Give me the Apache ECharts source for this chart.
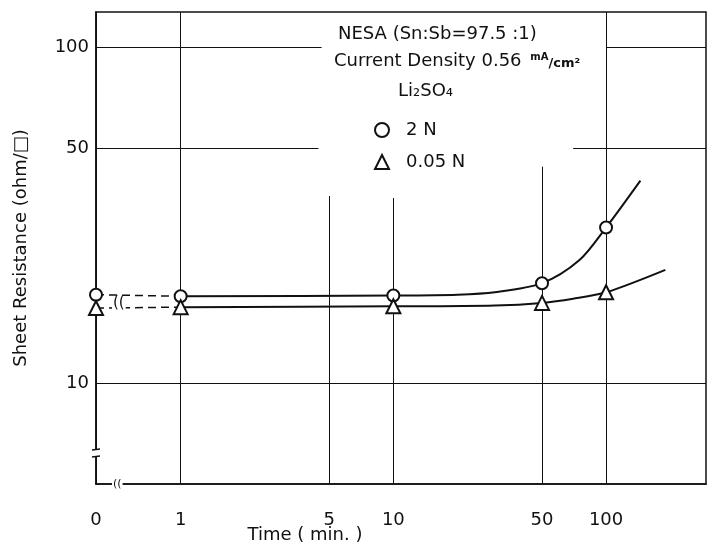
<!DOCTYPE html>
<html>
<head>
<meta charset="utf-8">
<script src="https://cdn.jsdelivr.net/npm/echarts@6/dist/echarts.min.js"></script>
<style>
  html, body { margin: 0; padding: 0; background: #fff; }
  #chart { width: 715px; height: 549px; }
</style>
</head>
<body>
<div id="chart"></div>
<script>
// axis ticks
const timeTicks = [1, 5, 10, 50, 100]
const resistanceTicks = [10, 50, 100]
const zeroTime = 0.4          // "0" sits at the left end of the broken log axis
const timeMax = 295
const resMin = 5
const resMax = 127

// measured points (time in min. -> sheet resistance in ohm/sq)
const times = [0, 1, 10, 50, 100]
const res2N = [18.3, 18.1, 18.2, 19.8, 29.0]
const res005N = [16.7, 16.8, 16.9, 17.3, 18.6]

// drawn trend curves
const curve2NTime = [1, 10, 20, 30, 50, 75, 100, 145]
const curve2NRes = [18.1, 18.2, 18.3, 18.6, 19.8, 23.2, 29.0, 40.0]
const curve005NTime = [1, 10, 30, 50, 70, 100, 190]
const curve005NRes = [16.8, 16.9, 17.0, 17.3, 17.8, 18.6, 21.7]

// where each vertical grid line stops (the lines leave room for the legend text)
const vLineTop = { 1: resMax, 5: 36, 10: 35.5, 50: 44, 100: resMax }
// horizontal grid line pieces [fromTime, toTime]
const hLinePieces = {
  10: [[zeroTime, timeMax]],
  50: [[zeroTime, 4.45], [70, timeMax]],
  100: [[zeroTime, 4.6], [100, timeMax]]
}

const t = v => (v === 0 ? zeroTime : v)
const pts = (xs, ys) => xs.map((x, i) => [t(x), ys[i]])

const gridLines = []
gridLines.push([
  { coord: [zeroTime, resMin], label: { show: true, formatter: '0', position: 'start', distance: 27 } },
  { coord: [zeroTime, resMax] }
])
timeTicks.forEach(v => {
  gridLines.push([
    { coord: [v, resMin], label: { show: true, formatter: String(v), position: 'start', distance: 27 } },
    { coord: [v, vLineTop[v]] }
  ])
})
resistanceTicks.forEach(v => {
  hLinePieces[v].forEach((p, i) => {
    gridLines.push([
      { coord: [p[0], v], label: { show: i === 0, formatter: String(v), position: 'start', distance: 7 } },
      { coord: [p[1], v] }
    ])
  })
})

const font = 'DejaVu Sans'
const chart = echarts.init(document.getElementById('chart'))
chart.setOption({
  animation: false,
  textStyle: { fontFamily: font },
  grid: {
    left: 96, right: 9, top: 12, bottom: 62,
    show: true, borderColor: '#111', borderWidth: 1.5
  },
  xAxis: {
    type: 'log', min: zeroTime, max: timeMax,
    axisLine: { lineStyle: { color: '#111', width: 1.5 } },
    axisTick: { show: false }, axisLabel: { show: false }, splitLine: { show: false },
    name: 'Time ( min. )', nameLocation: 'middle', nameGap: 42,
    nameTextStyle: { fontFamily: font, fontSize: 18, color: '#111', padding: [0, 192, 0, 0] }
  },
  yAxis: {
    type: 'log', min: resMin, max: resMax,
    axisLine: { lineStyle: { color: '#111', width: 1.5 } },
    axisTick: { show: false }, axisLabel: { show: false }, splitLine: { show: false },
    name: 'Sheet Resistance (ohm/\u25A1)', nameLocation: 'middle', nameGap: 66,
    nameTextStyle: { fontFamily: font, fontSize: 18, color: '#111' }
  },
  legend: {
    orient: 'vertical', left: 369, top: 116, itemGap: 14,
    itemWidth: 14, itemHeight: 14,
    data: ['2 N', '0.05 N'],
    textStyle: { fontFamily: font, fontSize: 18, color: '#111', padding: [0, 0, 0, 12] }
  },
  series: [
    {
      name: 'grid', type: 'line', data: [], silent: true,
      markLine: {
        silent: true, symbol: ['none', 'none'], animation: false,
        lineStyle: { color: '#111', width: 1, type: 'solid' },
        label: { fontFamily: font, fontSize: 18, color: '#111' },
        data: gridLines
      }
    },
    {
      name: '2N curve', type: 'line', smooth: 0.3, showSymbol: false, silent: true,
      data: pts(curve2NTime, curve2NRes),
      lineStyle: { color: '#111', width: 2 }
    },
    {
      name: '0.05N curve', type: 'line', smooth: 0.3, showSymbol: false, silent: true,
      data: pts(curve005NTime, curve005NRes),
      lineStyle: { color: '#111', width: 2 }
    },
    {
      name: '2N dashed', type: 'line', showSymbol: false, silent: true,
      data: pts(times.slice(0, 2), res2N.slice(0, 2)),
      lineStyle: { color: '#111', width: 1.5, type: [8, 5] }
    },
    {
      name: '0.05N dashed', type: 'line', showSymbol: false, silent: true,
      data: pts(times.slice(0, 2), res005N.slice(0, 2)),
      lineStyle: { color: '#111', width: 1.5, type: [8, 5] }
    },
    {
      name: '2 N', type: 'scatter', symbol: 'emptyCircle', symbolSize: 12, z: 5,
      data: pts(times, res2N),
      itemStyle: { color: '#111', borderWidth: 2, opacity: 1 }
    },
    {
      name: '0.05 N', type: 'scatter', symbol: 'emptyTriangle', symbolSize: 14, z: 5,
      data: pts(times, res005N),
      itemStyle: { color: '#111', borderWidth: 2, opacity: 1 }
    }
  ],
  graphic: [
    {
      type: 'text', left: 338, top: 25, z: 10,
      style: { text: 'NESA (Sn:Sb=97.5 :1)', font: '18px "' + font + '"', fill: '#111' }
    },
    {
      type: 'text', left: 334, top: 52, z: 10,
      style: {
        text: 'Current Density 0.56 {u|mA}{s|/cm\u00B2}',
        font: '18px "' + font + '"', fill: '#111',
        rich: {
          u: { fontSize: 10, fontWeight: 'bold', fontFamily: font, fill: '#111', verticalAlign: 'top', padding: [0, 0, 8, 3] },
          s: { fontSize: 13, fontWeight: 'bold', fontFamily: font, fill: '#111', verticalAlign: 'bottom' }
        }
      }
    },
    {
      type: 'text', left: 398, top: 82, z: 10,
      style: { text: 'Li\u2082SO\u2084', font: '18px "' + font + '"', fill: '#111' }
    },
    // break marks on the dashed lines, bottom axis and left axis
    {
      type: 'text', left: 112, top: 296, z: 10,
      style: { text: '((', font: '15px "' + font + '"', fill: '#111', backgroundColor: '#fff', padding: [0, 1] }
    },
    {
      type: 'text', left: 112, top: 479, z: 10,
      style: { text: '((', font: '11px "' + font + '"', fill: '#111', backgroundColor: '#fff', padding: [0, 1] }
    },
    { type: 'rect', left: 92, top: 450, z: 10, shape: { width: 8, height: 6 }, style: { fill: '#fff' } },
    { type: 'line', z: 11, shape: { x1: 92, y1: 450, x2: 100, y2: 449 }, style: { stroke: '#111', lineWidth: 1.5 } },
    { type: 'line', z: 11, shape: { x1: 92, y1: 457, x2: 100, y2: 456 }, style: { stroke: '#111', lineWidth: 1.5 } }
  ]
})
</script>
</body>
</html>
